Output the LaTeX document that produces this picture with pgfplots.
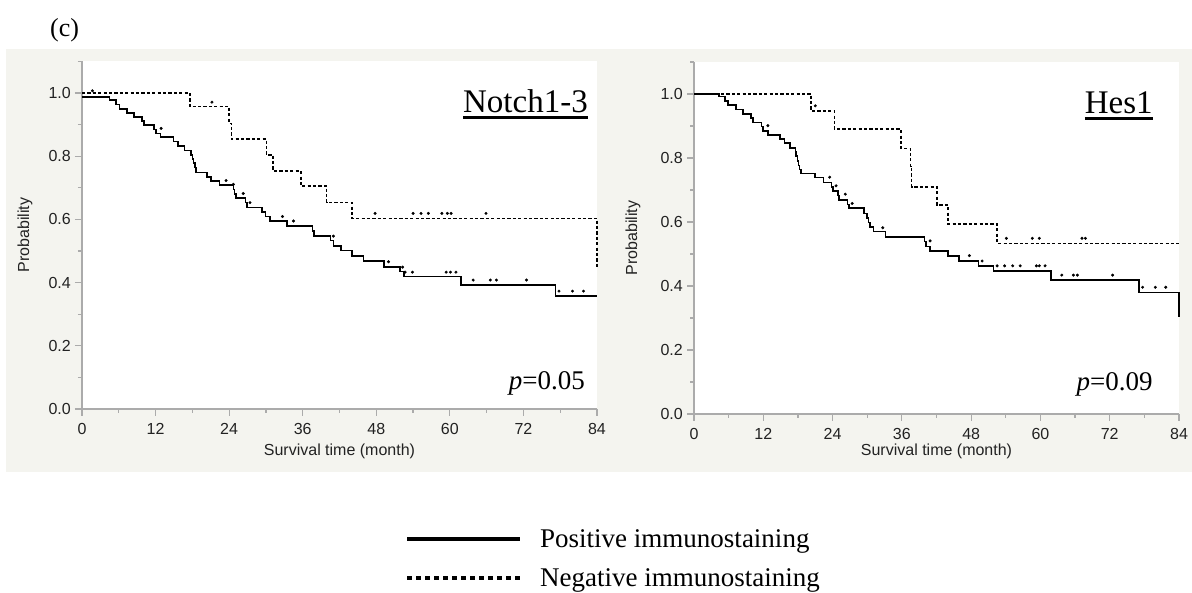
\documentclass[border=0pt]{standalone}
\usepackage{fontspec}
\setmainfont{Liberation Serif}
\newfontfamily\arialf{Liberation Sans}
\usepackage{pgfplots}
\pgfplotsset{compat=1.18}
\definecolor{panelbg}{HTML}{F4F4EF}
\definecolor{axgray}{HTML}{ABABAB}
\definecolor{txt}{HTML}{222222}

% underlined panel title
\newcommand{\ultitle}[1]{\setbox0\hbox{#1}\rlap{\raisebox{-6.6pt}{\rule{\wd0}{2.3pt}}}\box0}

\pgfplotsset{
  kmaxis/.style={
    scale only axis,
    xmin=0, xmax=84, ymin=0, ymax=1.1,
    axis x line=bottom, axis y line=left,
    axis line style={-, draw=axgray, line width=1.5pt},
    axis background/.style={fill=white},
    every tick/.style={draw=axgray, line width=1.2pt},
    tick align=outside,
    major tick length=7pt, minor tick length=4pt,
    xtick={0,12,...,84},
    ytick={0,0.2,0.4,0.6,0.8,1.0},
    minor xtick={6,18,...,78},
    minor ytick={0.1,0.3,0.5,0.7,0.9,1.1},
    /pgf/number format/assume math mode=true,
    tick label style={font=\arialf\fontsize{16}{18}\selectfont, text=txt},
    xticklabel style={anchor=north, inner sep=0pt, yshift=-7pt},
    yticklabel style={anchor=east, inner sep=0pt, xshift=-4pt,
      /pgf/number format/.cd, fixed, fixed zerofill, precision=1},
    xlabel={Survival time (month)},
    ylabel={Probability},
    clip=false,
  },
  pos/.style={const plot, black, line width=1.6pt, mark=none},
  neg/.style={const plot, black, line width=1.6pt, dash pattern=on 3.2pt off 2.2pt, mark=none},
  cens/.style={only marks, mark=*, mark size=1.3pt, black},
}

\begin{document}
\begin{tikzpicture}[x=1pt, y=1pt]
\useasboundingbox (0,0) rectangle (1192,593);
\fill[panelbg] (6,121) rectangle (1192,544);
\node[anchor=base west, inner sep=0pt, font=\fontsize{26}{28}\selectfont] at (50,556) {(c)};

% ---------------- Notch1-3 ----------------
\begin{axis}[kmaxis, at={(82pt,184pt)}, anchor=south west,
  width=515pt, height=347.6pt,
  every axis x label/.style={at={(axis description cs:0.5,-0.1228)}, anchor=center,
    font=\arialf\fontsize{16}{18}\selectfont, text=txt},
  every axis y label/.style={at={(axis description cs:-0.1107,0.5)}, anchor=center, rotate=90,
    font=\arialf\fontsize{16}{18}\selectfont, text=txt}]
\addplot[pos] coordinates {
 (0,0.988) (4.5,0.978) (5.5,0.964) (6.1,0.949) (7.3,0.937) (8.5,0.924) (9.8,0.911)
 (10.1,0.898) (11.7,0.885) (12.1,0.872) (12.8,0.860) (14.9,0.846) (15.7,0.832)
 (16.7,0.818) (17.8,0.804) (18.0,0.791) (18.2,0.778) (18.4,0.764) (18.6,0.749)
 (20.4,0.735) (21.0,0.722) (22.4,0.709) (24.7,0.695) (24.9,0.680) (25.1,0.667)
 (26.7,0.654) (26.9,0.638) (29.4,0.624) (29.9,0.609) (30.7,0.595) (33.4,0.579)
 (37.6,0.563) (37.8,0.547) (40.5,0.533) (41.0,0.516) (42.2,0.501) (44.0,0.484)
 (45.9,0.468) (49.3,0.450) (51.9,0.435) (52.5,0.419) (61.8,0.392) (77.2,0.358)
 (84,0.358)
};
\addplot[neg] coordinates {
 (0,1.0) (17.6,0.957) (24.0,0.904) (24.4,0.854) (30.1,0.804) (31.2,0.753)
 (35.7,0.706) (39.9,0.654) (44.0,0.603) (84,0.603) (84,0.45)
};
\addplot[cens] coordinates {
 (12.9,0.888) (23.5,0.723) (24.7,0.711) (26.3,0.682) (27.4,0.653) (32.7,0.609)
 (34.5,0.595) (41.0,0.547) (50.0,0.466) (52.3,0.449) (52.7,0.433) (53.9,0.433)
 (59.4,0.433) (60.1,0.433) (61.0,0.433) (63.8,0.408) (66.6,0.408) (67.6,0.408)
 (72.5,0.408) (77.8,0.373) (80.0,0.373) (81.8,0.373)
};
\addplot[cens] coordinates {
 (1.7,1.007) (21.2,0.971) (47.8,0.619) (54.0,0.619) (55.3,0.619) (56.5,0.619)
 (58.7,0.619) (59.6,0.619) (60.2,0.619) (65.9,0.619)
};
\node[anchor=base east, inner sep=0pt, font=\fontsize{33}{36}\selectfont]
  at (rel axis cs:0.9825,0.854) {\ultitle{Notch1-3}};
\node[anchor=base east, inner sep=0pt, font=\fontsize{27}{30}\selectfont]
  at (rel axis cs:0.977,0.055) {\textit{p}=0.05};
\end{axis}

% ---------------- Hes1 ----------------
\begin{axis}[kmaxis, at={(694pt,179pt)}, anchor=south west,
  width=485pt, height=352pt,
  every axis x label/.style={at={(axis description cs:0.5,-0.107)}, anchor=center,
    font=\arialf\fontsize{16}{18}\selectfont, text=txt},
  every axis y label/.style={at={(axis description cs:-0.1258,0.5)}, anchor=center, rotate=90,
    font=\arialf\fontsize{16}{18}\selectfont, text=txt}]
\addplot[pos] coordinates {
 (0,1.0) (4.3,0.992) (5.4,0.979) (5.9,0.966) (7.3,0.952) (8.5,0.938) (9.9,0.925)
 (10.2,0.911) (11.7,0.898) (12.0,0.884) (12.8,0.872) (14.9,0.859) (15.7,0.846)
 (16.6,0.832) (17.6,0.820) (17.7,0.806) (17.9,0.791) (18.1,0.777) (18.3,0.764)
 (18.5,0.751) (21.0,0.739) (22.4,0.724) (23.8,0.710) (24.1,0.697) (24.9,0.683)
 (25.1,0.669) (26.6,0.655) (26.8,0.643) (29.4,0.627) (30.0,0.612) (30.2,0.598)
 (30.5,0.584) (31.1,0.570) (33.2,0.554) (39.9,0.539) (40.2,0.523) (40.9,0.510)
 (44.0,0.494) (45.9,0.479) (49.3,0.463) (51.9,0.446) (61.8,0.419) (77.1,0.380)
 (84,0.380) (84,0.304)
};
\addplot[neg] coordinates {
 (0,1.0) (20.3,0.947) (24.3,0.890) (35.8,0.830) (37.5,0.773) (37.7,0.710)
 (42.1,0.653) (44.0,0.593) (52.5,0.533) (84,0.533)
};
\addplot[cens] coordinates {
 (12.8,0.901) (23.5,0.740) (24.6,0.713) (26.2,0.687) (27.4,0.658) (32.7,0.582)
 (40.9,0.541) (47.7,0.495) (49.9,0.478) (52.5,0.463) (53.8,0.463) (55.2,0.463)
 (56.5,0.463) (59.3,0.463) (59.8,0.463) (60.8,0.463) (63.7,0.434) (65.7,0.434)
 (66.4,0.434) (72.5,0.434) (77.7,0.396) (79.9,0.396) (81.7,0.396)
};
\addplot[cens] coordinates {
 (21.0,0.963) (54.1,0.549) (58.6,0.549) (59.8,0.549) (67.2,0.549) (67.8,0.549)
};
\node[anchor=base east, inner sep=0pt, font=\fontsize{33}{36}\selectfont]
  at (rel axis cs:0.946,0.855) {\ultitle{Hes1}};
\node[anchor=base east, inner sep=0pt, font=\fontsize{27}{30}\selectfont]
  at (rel axis cs:0.946,0.068) {\textit{p}=0.09};
\end{axis}

% ---------------- legend ----------------
\draw[black, line width=4.5pt] (407,54) -- (520,54);
\draw[black, line width=4.5pt, dash pattern=on 5pt off 4pt] (407,15) -- (520,15);
\node[anchor=base west, inner sep=0pt, font=\fontsize{27}{30}\selectfont] at (540,45) {Positive immunostaining};
\node[anchor=base west, inner sep=0pt, font=\fontsize{27}{30}\selectfont] at (540,6) {Negative immunostaining};
\end{tikzpicture}
\end{document}
